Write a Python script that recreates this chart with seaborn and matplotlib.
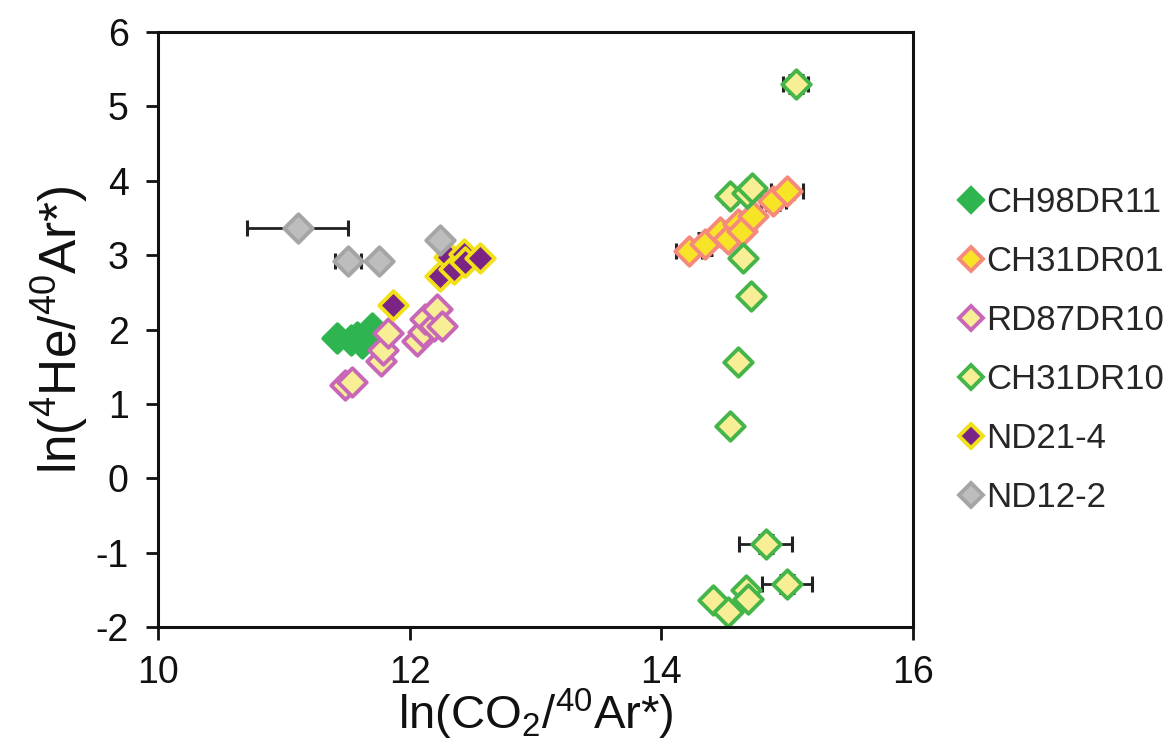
import numpy as np
import matplotlib
matplotlib.use('Agg')
import matplotlib.pyplot as plt
import seaborn as sns

# 数据：每个样品的 ln(CO2/40Ar*) 和 ln(4He/40Ar*)
names = ['CH98DR11', 'CH31DR01', 'RD87DR10', 'CH31DR10', 'ND21-4', 'ND12-2']

ch98dr11_x = [11.42, 11.53, 11.62, 11.70, 11.66, 11.58]
ch98dr11_y = [1.88, 1.86, 1.82, 2.02, 1.94, 1.90]

ch31dr01_x = [14.22, 14.35, 14.47, 14.53, 14.61, 14.64, 14.73, 14.89, 15.00]
ch31dr01_y = [3.05, 3.15, 3.31, 3.22, 3.42, 3.33, 3.52, 3.73, 3.86]
ch31dr01_xerr = [0.10, 0, 0, 0, 0, 0, 0, 0.10, 0.13]
ch31dr01_yerr = [0, 0.15, 0, 0, 0, 0, 0, 0.12, 0.10]

rd87dr10_x = [11.49, 11.54, 11.77, 11.79, 11.83, 12.06, 12.11, 12.12, 12.19, 12.22, 12.26]
rd87dr10_y = [1.26, 1.30, 1.57, 1.72, 1.95, 1.84, 1.96, 2.14, 2.05, 2.27, 2.05]

ch31dr10_x = [15.07, 14.55, 14.68, 14.72, 14.65, 14.71, 14.61, 14.55, 14.83, 15.00, 14.41, 14.53, 14.67, 14.69]
ch31dr10_y = [5.30, 3.79, 3.83, 3.90, 2.96, 2.45, 1.56, 0.70, -0.88, -1.42, -1.64, -1.80, -1.50, -1.62]
ch31dr10_xerr = [0.10, 0, 0, 0, 0, 0, 0, 0, 0.21, 0.20, 0, 0, 0, 0]
ch31dr10_yerr = [0.12, 0.10, 0, 0, 0, 0, 0, 0, 0.12, 0.12, 0, 0, 0, 0]

nd21_x = [11.87, 12.24, 12.31, 12.35, 12.43, 12.44, 12.56]
nd21_y = [2.33, 2.72, 2.98, 2.82, 3.02, 2.91, 2.96]
nd21_xerr = [0, 0.05, 0, 0, 0, 0, 0]

nd12_x = [11.11, 11.51, 11.76, 12.24]
nd12_y = [3.36, 2.92, 2.92, 3.20]
nd12_xerr = [0.40, 0.10, 0, 0]

series = [
    (ch98dr11_x, ch98dr11_y, None, None, '#2fb550', '#2fb550'),
    (ch31dr01_x, ch31dr01_y, ch31dr01_xerr, ch31dr01_yerr, '#f7e426', '#f58a7c'),
    (rd87dr10_x, rd87dr10_y, None, None, '#f8ee96', '#c867b8'),
    (ch31dr10_x, ch31dr10_y, ch31dr10_xerr, ch31dr10_yerr, '#f8ee96', '#44b649'),
    (nd21_x, nd21_y, nd21_xerr, None, '#7a2585', '#f2e019'),
    (nd12_x, nd12_y, nd12_xerr, None, '#bdbdbd', '#a5a5a5'),
]

sns.set_theme(style='white')
plt.rcParams['font.family'] = ['Liberation Sans', 'DejaVu Sans']
plt.rcParams['mathtext.fontset'] = 'custom'
plt.rcParams['mathtext.rm'] = 'Liberation Sans'
plt.rcParams['axes.unicode_minus'] = False

fig = plt.figure(figsize=(11.74, 7.45), dpi=100)
ax = fig.add_axes([0.1346, 0.1584, 0.643, 0.7986])

# 先画误差棒
for x, y, xe, ye, fc, ec in series:
    if xe is not None or ye is not None:
        ax.errorbar(x, y, xerr=xe, yerr=ye, fmt='none', ecolor='#222222',
                    elinewidth=2, capsize=6, capthick=2.2, zorder=1)

handles = []
for name, (x, y, xe, ye, fc, ec) in zip(names, series):
    sns.scatterplot(x=x, y=y, ax=ax, marker='D', s=210, color=fc,
                    edgecolor=ec, linewidth=2.8, zorder=2)
    handles.append(plt.Line2D([], [], ls='none', marker='D', markersize=12,
                              markerfacecolor=fc, markeredgecolor=ec,
                              markeredgewidth=2.8, label=name))

ax.set_xlim(10, 16)
ax.set_ylim(-2, 6)
ax.set_xticks([10, 12, 14, 16])
ax.set_yticks(range(-2, 7))
ax.tick_params(axis='both', which='major', labelsize=27, length=9,
               width=2, direction='out', bottom=True, left=True,
               colors='#111111')
ax.tick_params(axis='y', pad=12)
ax.tick_params(axis='x', pad=11)
for sp in ax.spines.values():
    sp.set_linewidth(2.2)
    sp.set_color('#111111')

ax.set_xlabel(r'ln(CO$_2$/$^{40}$Ar*)', fontsize=34, labelpad=-3, color='#111111')
ax.set_ylabel(r'ln($^4$He/$^{40}$Ar*)', fontsize=37, labelpad=4, color='#111111')

fig.legend(handles=handles, loc='center left', bbox_to_anchor=(0.806, 0.53),
           frameon=False, fontsize=25, handlelength=0.6, handletextpad=0.15,
           labelspacing=0.75, borderaxespad=0)

fig.savefig('out.png', dpi=100)
